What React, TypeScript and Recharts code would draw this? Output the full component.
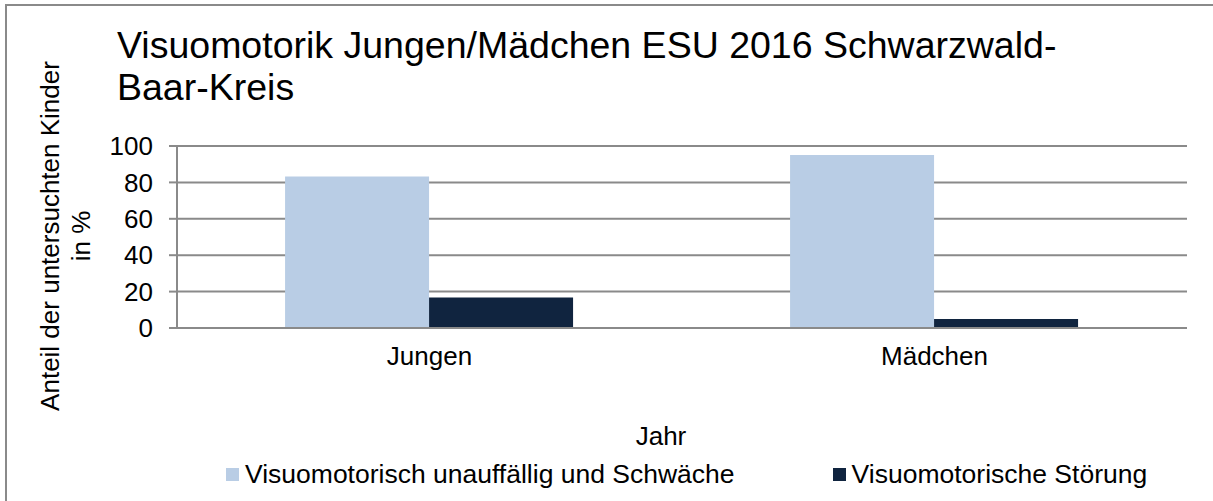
import { BarChart, Bar, XAxis, YAxis, CartesianGrid, Legend } from 'recharts';

const categories = ['Jungen', 'Mädchen'];
const unauffaellig = [83.3, 95.0];
const stoerung = [16.7, 5.0];
const seriesNames = ['Visuomotorisch unauffällig und Schwäche', 'Visuomotorische Störung'];
const yTicks = [0, 20, 40, 60, 80, 100];
const titleLines = ['Visuomotorik Jungen/Mädchen ESU 2016 Schwarzwald-', 'Baar-Kreis'];
const yLabelLines = ['Anteil der untersuchten Kinder', 'in %'];
const xLabel = 'Jahr';

const FONT = '"Liberation Sans", Arial, sans-serif';
const GRID = '#8a8a8a';
const LIGHT = '#b9cde5';
const DARK = '#10243f';

const chartData = categories.map((name, i) => ({
  name,
  unauffaellig: unauffaellig[i],
  stoerung: stoerung[i],
}));

// boundaries between categories, for the Excel-style tick marks
const edgeTicks = [...categories.map((_, i) => i), categories.length];

function YAxisTitle({ viewBox }: any) {
  const cy = viewBox.y + viewBox.height / 2 - 1;
  const xs = [59, 90];
  return (
    <g>
      {yLabelLines.map((line, i) => (
        <text
          key={line}
          x={xs[i]}
          y={cy}
          transform={`rotate(-90, ${xs[i]}, ${cy})`}
          textAnchor="middle"
          fontSize={26}
          fill="#000"
        >
          {line}
        </text>
      ))}
    </g>
  );
}

function XAxisTitle({ viewBox }: any) {
  return (
    <text
      x={viewBox.x + viewBox.width / 2 - 21}
      y={viewBox.y + 117}
      textAnchor="middle"
      fontSize={26}
      fill="#000"
    >
      {xLabel}
    </text>
  );
}

function LegendContent({ payload }: any) {
  return (
    <div style={{ display: 'flex', gap: 98, fontSize: 26.5, lineHeight: '30px', color: '#000' }}>
      {(payload || []).map((p: any) => (
        <div key={p.value} style={{ display: 'flex', alignItems: 'center', whiteSpace: 'nowrap' }}>
          <span style={{ width: 13, height: 13, background: p.color, marginRight: 6, display: 'inline-block' }} />
          <span>{p.value}</span>
        </div>
      ))}
    </div>
  );
}

export default function App() {
  return (
    <div
      style={{
        position: 'absolute',
        left: 0,
        top: 0,
        width: 1213,
        height: 501,
        overflow: 'hidden',
        background: '#fff',
        fontFamily: FONT,
      }}
    >
      <div
        style={{
          position: 'absolute',
          left: 5,
          top: 4,
          width: 1400,
          height: 700,
          borderLeft: `2px solid ${GRID}`,
          borderTop: `2px solid ${GRID}`,
        }}
      />
      <div
        style={{
          position: 'absolute',
          left: 117,
          top: 24,
          fontSize: 37.5,
          lineHeight: '42px',
          color: '#000',
          whiteSpace: 'nowrap',
          zIndex: 2,
        }}
      >
        {titleLines.map((l) => (
          <div key={l}>{l}</div>
        ))}
      </div>
      <BarChart
        width={1213}
        height={501}
        data={chartData}
        margin={{ top: 146, right: 26, bottom: 52, left: 0 }}
        barCategoryGap="21.4%"
        barGap={0}
      >
        <CartesianGrid vertical={false} stroke={GRID} strokeWidth={2} xAxisId="cat" />
        <XAxis
          xAxisId="edge"
          type="number"
          domain={[0, categories.length]}
          ticks={edgeTicks}
          allowDataOverflow
          height={1}
          tick={false}
          axisLine={false}
          tickSize={8}
          tickLine={{ stroke: GRID, strokeWidth: 2 }}
        />
        <XAxis
          xAxisId="cat"
          dataKey="name"
          height={120}
          tickLine={false}
          tickSize={0}
          tickMargin={19}
          axisLine={{ stroke: GRID, strokeWidth: 2 }}
          tick={{ fontSize: 26, fill: '#000' }}
          label={<XAxisTitle />}
        />
        <YAxis
          width={177}
          domain={[0, 100]}
          ticks={yTicks}
          tickSize={8}
          tickMargin={16}
          axisLine={{ stroke: GRID, strokeWidth: 2 }}
          tickLine={{ stroke: GRID, strokeWidth: 2 }}
          tick={{ fontSize: 26, fill: '#000' }}
          label={<YAxisTitle />}
        />
        <Legend
          align="center"
          verticalAlign="middle"
          layout="horizontal"
          content={<LegendContent />}
          wrapperStyle={{ left: 226, top: 459, width: 'auto' }}
        />
        <Bar xAxisId="cat" dataKey="unauffaellig" name={seriesNames[0]} fill={LIGHT} isAnimationActive={false} />
        <Bar xAxisId="cat" dataKey="stoerung" name={seriesNames[1]} fill={DARK} isAnimationActive={false} />
      </BarChart>
    </div>
  );
}
